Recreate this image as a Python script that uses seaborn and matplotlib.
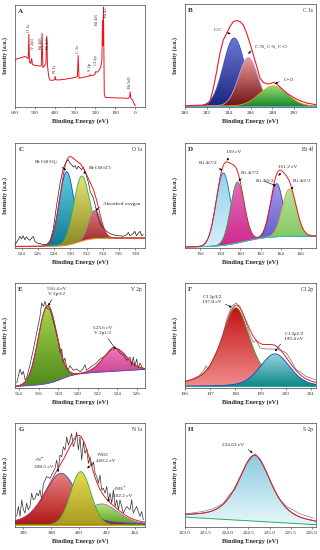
import numpy as np
import matplotlib
matplotlib.use("Agg")
import matplotlib.pyplot as plt
import seaborn as sns
from matplotlib.colors import LinearSegmentedColormap

sns.set_theme(style="white")
plt.rcParams["font.family"] = ["Liberation Serif", "DejaVu Serif"]
plt.rcParams["mathtext.fontset"] = "stix"
plt.rcParams["axes.linewidth"] = 0.5
plt.rcParams["axes.edgecolor"] = "#333333"

# ---- A: survey spectrum (binding energy, intensity)
survey_ev = [600, 575, 550, 540, 534, 531, 528, 522, 517, 513, 505, 490, 475, 469, 465, 461,
             452, 446, 442, 438, 432, 425, 410, 402, 400, 397, 385, 350, 320, 300, 289, 285,
             281, 270, 250, 230, 226, 223, 210, 201, 198, 190, 180, 172, 167, 164, 161.5, 159,
             155, 150, 120, 90, 60, 35, 29, 26, 23, 15, 8, 3, 0]
survey_int = [46, 47.5, 49, 48, 47, 71, 44, 42, 47, 41, 40.5, 40, 39.5, 40, 72, 38,
              40, 42, 69, 40, 29, 25.5, 25.5, 26, 29.5, 26, 25.8, 26.5, 27.5, 28.3, 29, 50,
              27.5, 28, 28.8, 29.6, 31, 30, 30.5, 31.5, 34, 33.5, 35.5, 39, 45, 85, 60, 98,
              12, 8.5, 8.2, 8, 7.8, 7.6, 9, 14, 8, 6, 3, 1, 0.3]

# ---- B: C 1s
c1s_ev = [280.0, 281.98, 282.29, 282.6, 282.9, 283.2, 283.51, 283.82, 284.12, 284.42,
          284.73, 285.04, 285.34, 285.65, 285.95, 286.26, 286.57, 286.87, 287.17, 287.48,
          287.78, 288.09, 288.4, 288.7, 289.31, 289.92, 290.53, 291.14, 291.97]
c1s_int = [1.3, 1.9, 5.5, 18.4, 34.5, 52.3, 65.2, 71.6, 78.1, 82.9,
           83.9, 82.9, 79.7, 71.6, 61.9, 50.6, 39.4, 28.1, 23.9, 22.6,
           22.6, 23.9, 22.6, 19.4, 13.5, 9.4, 6.1, 3.9, 2.3]
c1s_center = [284.5, 285.8, 288.1]
c1s_height = [66, 47, 19.5]
c1s_fwhm = [2.3, 2.1, 3.0]

# ---- C: O 1s
o1s_ev = [523.2, 523.6, 523.8, 524.0, 524.2, 524.4, 524.6, 525.0, 525.25, 525.45, 525.65,
          525.9, 526.3, 526.7, 527.1, 527.5, 527.9, 528.3, 528.75, 529.15, 529.55, 529.75,
          529.95, 530.4, 530.6, 530.8, 531.0, 531.2, 531.4, 531.6, 531.8, 532.0, 532.25,
          532.45, 532.65, 532.85, 533.05, 533.25, 533.45, 533.65, 534.05, 534.5, 534.9,
          535.3, 535.7, 536.1, 536.5, 536.95, 537.15, 537.35, 537.75, 537.95, 538.15,
          538.4, 538.6, 538.8, 539.0]
o1s_int = [3.2, 7.9, 11.1, 8.6, 11.7, 7.9, 10.5, 7.3, 9.5, 11.1, 6.3,
           4.8, 4.1, 3.2, 3.2, 6.3, 17.5, 39.7, 61.9, 76.2, 82.5, 84.1,
           81.0, 77.1, 78.4, 75.2, 77.8, 76.2, 74.6, 77.1, 73.0, 68.3, 61.9,
           54.0, 50.8, 47.6, 41.3, 34.9, 28.6, 23.8, 19.0, 15.9, 13.7,
           12.7, 11.7, 11.7, 11.1, 12.7, 14.9, 11.7, 13.7, 15.9, 11.7,
           14.3, 15.9, 11.7, 12.7]
o1s_center = [529.55, 531.4, 533.05]
o1s_height = [70, 62, 27]
o1s_fwhm = [2.1, 2.3, 1.7]

# ---- D: Bi 4f
bi4f_center = [158.3, 159.7, 163.6, 164.85]
bi4f_height = [69, 58, 50.5, 45]
bi4f_fwhm = [1.7, 1.6, 1.5, 1.65]

# ---- E: V 2p
v2p_ev = [513.77, 513.94, 514.11, 514.28, 514.45, 514.62, 514.78, 515.12, 515.46, 515.8,
          516.14, 516.31, 516.48, 516.65, 516.82, 517.15, 517.32, 517.49, 517.83, 518.0,
          518.17, 518.34, 518.5, 518.67, 518.84, 519.01, 519.18, 519.52, 519.86, 520.2,
          520.54, 520.71, 520.87, 521.21, 521.55, 521.89, 522.23, 522.57, 522.91, 523.24,
          523.58, 523.92, 524.26, 524.6, 524.94, 525.28, 525.44, 525.61, 525.78, 525.95,
          526.12, 526.29, 526.63]
v2p_int = [4.8, 11.1, 18.1, 12.7, 15.9, 7.9, 9.5, 22.2, 36.5, 52.4,
           68.3, 81.0, 77.8, 82.5, 76.2, 74.6, 69.8, 63.5, 50.8, 44.4,
           33.3, 37.1, 23.8, 28.6, 20.0, 17.5, 21.3, 16.8, 18.1, 15.6,
           18.7, 22.2, 16.8, 19.4, 21.9, 23.8, 27.6, 29.5, 31.7, 36.5,
           39.0, 37.8, 33.3, 31.7, 26.3, 29.5, 21.3, 29.5, 20.6, 27.6,
           19.0, 23.8, 17.5]
v2p_center = [516.9, 523.75]
v2p_height = [74, 21.5]
v2p_fwhm = [2.2, 2.8]

# ---- F: Cl 2p
cl2p_ev = [196.03, 196.3, 196.56, 196.77, 196.83, 196.93, 197.1, 197.26, 197.36, 197.45,
           197.65, 197.85, 198.02, 198.18, 198.38, 198.58, 198.71, 198.82, 198.98, 199.24,
           199.51, 199.7, 199.9, 200.03, 200.23, 200.41, 200.54, 200.8, 201.18]
cl2p_int = [6.3, 8.6, 11.7, 17.5, 21.3, 17.5, 27.0, 34.9, 38.1, 44.4,
            65.0, 77.8, 81.0, 77.8, 65.0, 50.8, 43.5, 45.4, 38.1, 37.1,
            37.1, 36.5, 34.9, 33.3, 25.4, 17.5, 15.9, 11.1, 7.9]
cl2p_center = [198.02, 199.57]
cl2p_height = [75, 31]
cl2p_fwhm = [1.35, 1.4]

# ---- G: N 1s
n1s_ev = [395.52, 395.64, 395.76, 395.88, 396.0, 396.12, 396.23, 396.35, 396.47, 396.59,
          396.71, 396.83, 396.95, 397.07, 397.19, 397.31, 397.43, 397.66, 397.9, 398.14,
          398.26, 398.38, 398.5, 398.62, 398.74, 398.86, 398.98, 399.1, 399.22, 399.33,
          399.45, 399.57, 399.69, 399.81, 399.93, 400.05, 400.17, 400.29, 400.41, 400.53,
          400.65, 400.77, 400.89, 401.01, 401.13, 401.25, 401.37, 401.48, 401.6, 401.72,
          401.84, 401.96, 402.08, 402.2, 402.32, 402.44, 402.56, 402.68, 402.8, 402.91,
          403.15, 403.39, 403.63, 403.75, 403.86, 404.1, 404.34, 404.46, 404.58]
n1s_int = [10.2, 19.7, 10.2, 26.1, 16.6, 13.4, 22.9, 16.6, 19.7, 32.5,
           26.1, 27.7, 32.5, 29.9, 35.7, 26.1, 41.4, 48.4, 46.8, 53.2,
           56.4, 64.3, 54.8, 69.1, 67.5, 77.1, 73.9, 86.6, 78.7, 83.4,
           89.8, 77.1, 81.8, 91.4, 73.9, 86.6, 64.3, 81.8, 70.7, 75.5,
           61.1, 67.5, 58.0, 62.7, 51.6, 48.4, 42.0, 50.0, 35.7, 37.3,
           32.5, 38.9, 26.1, 32.5, 22.9, 35.7, 19.7, 26.1, 16.6, 26.1,
           13.4, 19.7, 16.6, 26.1, 13.4, 19.7, 10.2, 15.0, 7.0]
n1s_center = [401.6, 398.7, 400.1]
n1s_height = [20, 49.5, 51]
n1s_fwhm = [2.8, 2.8, 1.7]

# ---- H: S 2p
s2p_ev = [223.04, 223.43, 223.67, 223.91, 224.06, 224.18, 224.3, 224.46, 224.66, 224.77,
          224.93, 225.09, 225.21, 225.41, 225.72, 226.04]
s2p_int = [12.7, 15.0, 17.5, 22.9, 31.8, 35.7, 46.8, 61.1, 70.7, 64.3,
           53.2, 37.3, 27.7, 19.7, 12.7, 8.6]
s2p_center = [224.65]
s2p_height = [63.5]
s2p_fwhm = [0.92]

ENV = "#ee1c24"


def pv(x, c, h, w, eta=0.0):
    g = np.exp(-4 * np.log(2) * ((x - c) / w) ** 2)
    l = 1 / (1 + (2 * (x - c) / w) ** 2)
    return h * (eta * l + (1 - eta) * g)


def step_bg(x, lo, hi, c, s, slope=0.0):
    return lo + (hi - lo) / (1 + np.exp(-(x - c) / s)) + slope * (x - x[0])


def grad_fill(ax, x, top, bot, c_top, c_bot, edge, z):
    poly = ax.fill_between(x, bot, top, facecolor="none", edgecolor="none", zorder=z)
    cmap = LinearSegmentedColormap.from_list("g", [c_bot, c_top])
    im = ax.imshow(np.linspace(0, 1, 64).reshape(-1, 1), cmap=cmap, aspect="auto",
                   origin="lower", extent=[x.min(), x.max(), bot.min(), top.max()],
                   zorder=z, interpolation="bilinear")
    im.set_clip_path(poly.get_paths()[0], transform=ax.transData)
    ax.plot(x, top, color=edge, lw=0.6, zorder=z + 0.1)


def fit_panel(ax, xlim, centers, heights, widths, etas, tops, bots, edges, bg, bg_color,
              raw=None, raw_color="#303030", env=None):
    x = np.linspace(xlim[0], xlim[1], 600)
    b = bg(x)
    total = b.copy()
    for i, (c, h, w, e) in enumerate(zip(centers, heights, widths, etas)):
        comp = pv(x, c, h, w, e)
        total = total + comp
        grad_fill(ax, x, b + comp, b, tops[i], bots[i], edges[i], 2 + i * 0.2)
    sns.lineplot(x=x, y=b, ax=ax, color=bg_color, linewidth=0.7, zorder=3.5)
    if raw is not None:
        sns.lineplot(x=raw[0], y=raw[1], ax=ax, color=raw_color, linewidth=0.5,
                     zorder=4, sort=False, estimator=None)
    if env is None:
        sns.lineplot(x=x, y=total, ax=ax, color=ENV, linewidth=0.7, zorder=5)
    else:
        sns.lineplot(x=env[0], y=env[1], ax=ax, color=ENV, linewidth=0.8, zorder=5,
                     sort=False, estimator=None)


def style(ax, xlim, ticks, labels, letter, elem, ylim=(0, 100)):
    ax.set_xlim(*xlim)
    ax.set_ylim(*ylim)
    ax.set_xticks(ticks)
    ax.set_xticklabels(labels)
    ax.set_yticks([])
    ax.set_xlabel("Binding Energy (eV)", fontsize=4.6, fontweight="bold", labelpad=2)
    ax.set_ylabel("Intensity (a.u.)", fontsize=4.2, fontweight="bold", labelpad=5)
    ax.tick_params(axis="x", labelsize=3.8, length=1.5, width=0.4, pad=1.5,
                   direction="out", bottom=True, colors="#333333")
    ax.text(0.025, 0.965, letter, transform=ax.transAxes, fontsize=5, fontweight="bold",
            va="top", ha="left", zorder=7)
    if elem:
        ax.text(0.975, 0.965, elem, transform=ax.transAxes, fontsize=4, va="top",
                ha="right", zorder=7)
    for s in ax.spines.values():
        s.set_linewidth(0.5)
        s.set_color("#444444")


def note(ax, text, xy, xytext, ha="center", relpos=(0.5, 0.5)):
    ax.annotate(text, xy=xy, xytext=xytext, fontsize=3.8, ha=ha, va="center",
                multialignment=ha if ha != "center" else "center", linespacing=1.2,
                arrowprops=dict(arrowstyle="-|>", color="black", lw=0.4, mutation_scale=3,
                                shrinkA=0.5, shrinkB=0, relpos=relpos), zorder=8)


fig = plt.figure(figsize=(3.2, 5.5), dpi=100)
L1, W1 = 15 / 320, 130 / 320
L2, W2 = 185 / 320, 131 / 320
axA = fig.add_axes([L1, 1 - 107 / 550, W1, 102 / 550])
axB = fig.add_axes([L2, 1 - 107 / 550, W2, 103 / 550])
axC = fig.add_axes([L1, 1 - 248 / 550, W1, 105 / 550])
axD = fig.add_axes([L2, 1 - 248 / 550, W2, 105 / 550])
axE = fig.add_axes([L1, 1 - 388 / 550, W1, 105 / 550])
axF = fig.add_axes([L2, 1 - 388 / 550, W2, 105 / 550])
axG = fig.add_axes([L1, 1 - 527 / 550, W1, 104 / 550])
axH = fig.add_axes([L2, 1 - 527 / 550, W2, 104 / 550])

# A
sns.lineplot(x=survey_ev, y=survey_int, ax=axA, color="#e8141c", linewidth=0.7,
             sort=False, estimator=None)
for t, ex, ey in [("O 1s", 531, 73.5), ("V 2p3", 512, 56), ("Bi 4d3", 472, 56),
                  ("Bi 4d5", 435, 56), ("N 1s", 401, 33), ("C 1s", 287, 52),
                  ("S 2p", 226, 35), ("Cl 2p", 197, 40.5), ("Bi 4f5", 190, 80.5),
                  ("Bi 4f7", 146, 88.5), ("Bi 5d5", 28, 17.5)]:
    axA.text(ex, ey, t, rotation=90, fontsize=3.2, ha="center", va="bottom")
style(axA, (600, -48), [600, 500, 400, 300, 200, 100, 0],
      ["600", "500", "400", "300", "200", "100", "0"], "A", None, ylim=(-1, 100))

# B
fit_panel(axB, (280, 292), c1s_center, c1s_height, c1s_fwhm, [0, 0, 0],
          ["#6a78d4", "#ec9a9a", "#98e07a"], ["#1c2680", "#701515", "#1f8a2a"],
          ["#3050c0", "#b8a8e8", "#f0a020"], lambda x: step_bg(x, 1.0, 1.0, 285, 1),
          "#40b0d0", env=(c1s_ev, c1s_int))
note(axB, "C-C", (284.18, 71), (283.05, 74.8))
note(axB, "C-N, C-S, C-O", (285.8, 51.6), (286.4, 58.7), ha="left", relpos=(0, 0.5))
note(axB, "C=O", (288.24, 22.6), (289.0, 26.5), ha="left", relpos=(0, 0.5))
style(axB, (280, 292), [280, 282, 284, 286, 288, 290],
      ["280", "282", "284", "286", "288", "290"], "B", "C 1s")

# C
fit_panel(axC, (523.2, 539.2), o1s_center, o1s_height, o1s_fwhm, [0, 0, 0],
          ["#5fd0e0", "#e8e27a", "#e07a7a"], ["#127a98", "#8c8a22", "#962424"],
          ["#2040c8", "#30b040", "#8a70c8"], lambda x: step_bg(x, 1.5, 9.5, 531.0, 0.8),
          "#f0a020", raw=(o1s_ev, o1s_int), raw_color="#202020")
note(axC, "Bi-O$_{(BiVO_4)}$", (529.48, 74), (527.0, 81), relpos=(1, 0.3))
note(axC, "Bi-O$_{(BiOCl)}$", (531.61, 70.8), (532.23, 75.2), ha="left", relpos=(0, 0.5))
note(axC, "Absorbed oxygen", (533.13, 35.6), (534.07, 42.2), ha="left", relpos=(0, 0.5))
style(axC, (523.2, 539.2), list(range(524, 539, 2)),
      [str(v) for v in range(524, 539, 2)], "C", "O 1s")

# D
fit_panel(axD, (154.5, 167.5), bi4f_center, bi4f_height, bi4f_fwhm, [0, 0, 0, 0],
          ["#98d2ea", "#e469b8", "#a79ae6", "#b8e29a"],
          ["#d2eff8", "#cc2a8e", "#5a55c8", "#78c458"],
          ["#2060d0", "#30a050", "#4040c0", "#e0a020"],
          lambda x: step_bg(x, 1.0, 11.5, 160.4, 1.2), "#30c0c8")
note(axD, "159 eV", (158.63, 83.2), (159.29, 91.1))
note(axD, "Bi 4f7/2", (158.2, 74), (156.81, 81))
note(axD, "Bi 4f7/2", (159.79, 64.1), (160.98, 71.4))
note(axD, "161.2 eV", (163.76, 68.9), (164.65, 77.1))
note(axD, "Bi 4f5/2", (163.5, 59.4), (162.4, 63.5))
note(axD, "Bi 4f5/2", (164.98, 56.2), (166.07, 63.5))
style(axD, (154.5, 167.5), list(range(156, 167, 2)),
      [str(v) for v in range(156, 167, 2)], "D", "Bi 4f")

# E
fit_panel(axE, (513.6, 526.8), v2p_center, v2p_height, v2p_fwhm, [0, 0],
          ["#a6d64a", "#ea78ba"], ["#4f8a1e", "#c0307e"], ["#2a5fd0", "#20a080"],
          lambda x: step_bg(x, 1.5, 10.5, 518.3, 0.7, slope=0.55), "#8040c0",
          raw=(v2p_ev, v2p_int))
note(axE, "516.4 eV\nV 2p3/2", (516.98, 78.4), (517.83, 92))
note(axE, "523.6 eV\nV 2p1/2", (523.82, 37.1), (522.47, 54.7))
style(axE, (513.6, 526.8), list(range(514, 527, 2)),
      [str(v) for v in range(514, 527, 2)], "E", "V 2p")

# F
fit_panel(axF, (196, 201.2), cl2p_center, cl2p_height, cl2p_fwhm, [0.6, 0.3],
          ["#c21414", "#9ad4e0"], ["#f08a8a", "#0e8a8a"], ["#30a030", "#2040c0"],
          lambda x: step_bg(x, 1.5, 1.5, 198, 1), "#20a0a0",
          raw=(cl2p_ev, cl2p_int), raw_color="#707070")
note(axF, "Cl 2p3/2\n197.8 eV", (197.85, 76.8), (197.06, 84.2), relpos=(1, 0.2))
note(axF, "Cl 2p1/2\n199.4 eV", (199.57, 34.9), (200.33, 48.9), relpos=(0, 0.2))
style(axF, (196, 201.2), [196, 197, 198, 199, 200, 201],
      ["196", "197", "198", "199", "200", "201"], "F", "Cl 2p")

# G
fit_panel(axG, (395.4, 404.7), n1s_center, n1s_height, n1s_fwhm, [0.3, 0.4, 0.0],
          ["#b6e27a", "#e88080", "#e8dc50"], ["#5aa020", "#b01818", "#a89a20"],
          ["#9070c0", "#2050d0", "#30b040"],
          lambda x: step_bg(x, 2.2, 2.2, 400, 1), "#e0a000",
          raw=(n1s_ev, n1s_int))
note(axG, "=N$^{-}$\n398.5 eV", (398.57, 53.2), (396.78, 61.5), ha="left", relpos=(1, 0.2))
note(axG, "-NH$_2$\n400.2 eV", (400.57, 56.4), (401.19, 67.2), ha="left", relpos=(0, 0.3))
note(axG, "-NH$^{+}$\n402.2 eV", (402.0, 24.5), (402.43, 34.1), ha="left", relpos=(0, 0.2))
style(axG, (395.4, 404.7), [396, 398, 400, 402, 404],
      ["396", "398", "400", "402", "404"], "G", "N 1s")

# H
fit_panel(axH, (223, 226.1), s2p_center, s2p_height, s2p_fwhm, [0.6],
          ["#8ccbe0"], ["#e6f6fa"], ["#2070c0"],
          lambda x: 9.5 + (2.2 - 9.5) * (x - 223) / 3.1, "#20b060",
          raw=(s2p_ev, s2p_int), raw_color="#808080")
note(axH, "224.63 eV", (224.6, 71.3), (224.14, 78.7), relpos=(0.9, 0.5))
style(axH, (223, 226.1), [223.0, 223.5, 224.0, 224.5, 225.0, 225.5, 226.0],
      ["223.0", "223.5", "224.0", "224.5", "225.0", "225.5", "226.0"], "H", "S 2p")

fig.savefig("out.png", dpi=100, facecolor="white")
